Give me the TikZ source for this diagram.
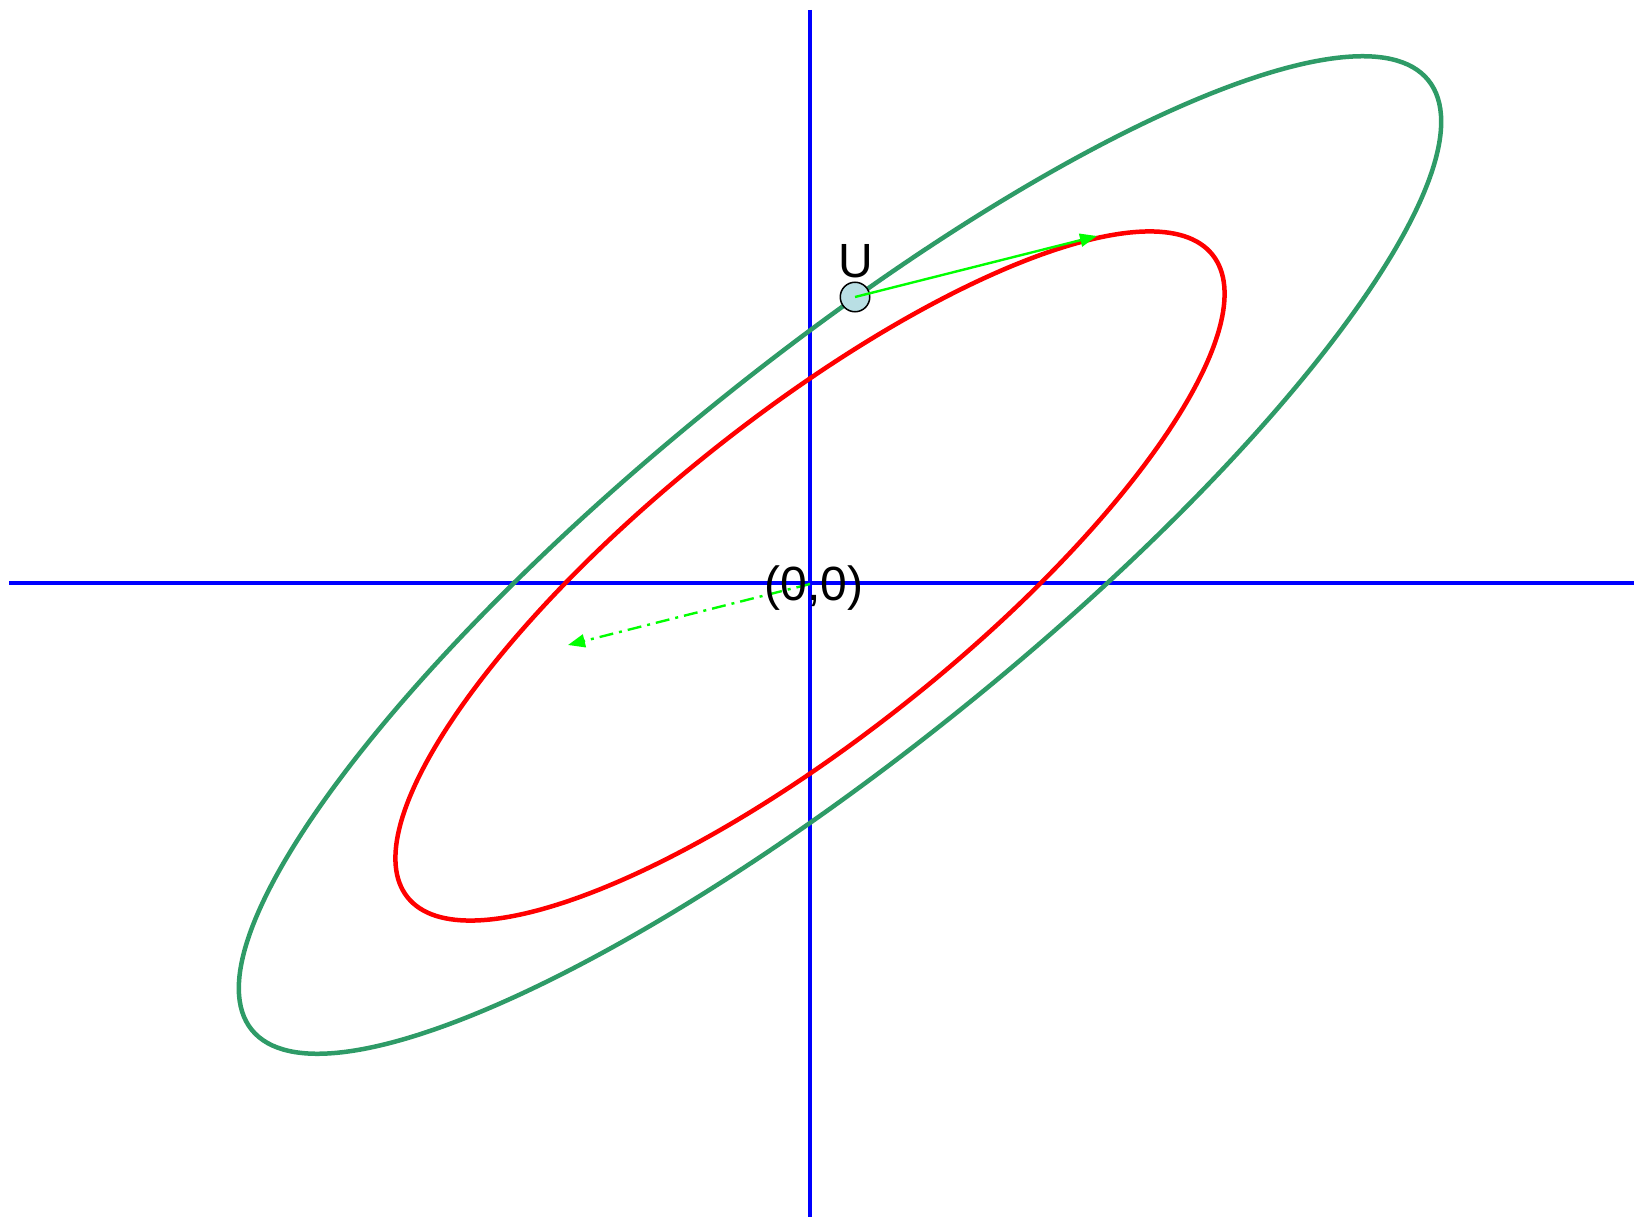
\documentclass[tikz,border=0pt]{standalone}
\usepackage{fontspec}
\setmainfont{Liberation Sans}
\usetikzlibrary{arrows.meta}
\definecolor{ringgreen}{RGB}{46,155,103}
\definecolor{pointfill}{RGB}{185,223,228}
\tikzset{
  axisline/.style={blue, line width=3.3pt},
  ringline/.style={line width=4.5pt},
  vecline/.style={-{Triangle[length=17pt,width=13pt]}, green, line width=2.4pt},
  biglabel/.style={font=\fontsize{48}{58}\selectfont, inner sep=0pt}
}
\begin{document}
\begin{tikzpicture}[x=1pt,y=-1pt]
\useasboundingbox (0,0) rectangle (1634,1217);
\coordinate (xstart) at (9,583);
\coordinate (xend) at (1634,583);
\coordinate (ystart) at (810,10);
\coordinate (yend) at (810,1217);
\coordinate (o) at (810,584);
\coordinate (utip) at (1097,236);
\coordinate (otip) at (568,645);
\draw[axisline] (xstart) -- (xend);
\draw[axisline] (ystart) -- (yend);
\draw[ringline, ringgreen, rotate around={38.9:(840,555)}] (840,555) ellipse [x radius=756, y radius=196];
\draw[ringline, red, rotate around={38.6:(810,576)}] (810,576) ellipse [x radius=515, y radius=159];
\node[circle, draw, fill=pointfill, minimum size=29.5pt, inner sep=0pt, line width=1.5pt] (pu) at (855,297) {};
\node[biglabel] (ulabel) at (856,261) {U};
\draw[vecline] (pu.center) -- (utip);
\draw[vecline, dash pattern=on 14pt off 6pt on 3pt off 6pt] (o) -- (otip);
\node[biglabel] (olabel) at (814,588) {(0,0)};
\end{tikzpicture}
\end{document}
